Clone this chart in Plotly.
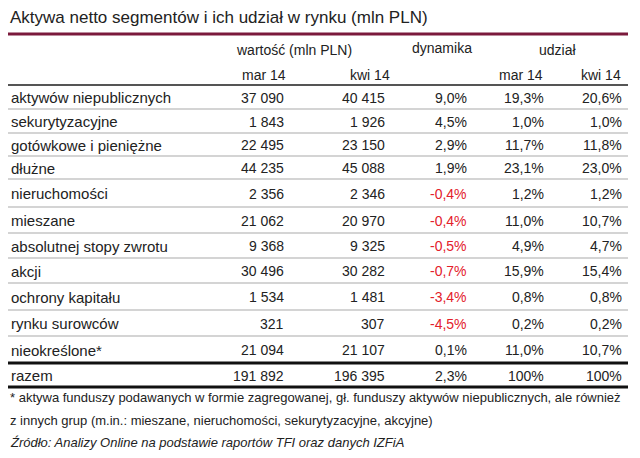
import plotly.graph_objects as go

# table data
categories = ["aktywów niepublicznych", "sekurytyzacyjne", "gotówkowe i pieniężne", "dłużne",
              "nieruchomości", "mieszane", "absolutnej stopy zwrotu", "akcji",
              "ochrony kapitału", "rynku surowców", "nieokreślone*", "razem"]
value_mar = [37090, 1843, 22495, 44235, 2356, 21062, 9368, 30496, 1534, 321, 21094, 191892]
value_kwi = [40415, 1926, 23150, 45088, 2346, 20970, 9325, 30282, 1481, 307, 21107, 196395]
dynamika = [9.0, 4.5, 2.9, 1.9, -0.4, -0.4, -0.5, -0.7, -3.4, -4.5, 0.1, 2.3]
share_mar = [19.3, 1.0, 11.7, 23.1, 1.2, 11.0, 4.9, 15.9, 0.8, 0.2, 11.0, 100]
share_kwi = [20.6, 1.0, 11.8, 23.0, 1.2, 10.7, 4.7, 15.4, 0.8, 0.2, 10.7, 100]

title = "Aktywa netto segmentów i ich udział w rynku (mln PLN)"
notes = ["* aktywa funduszy podawanych w formie zagregowanej, gł. funduszy aktywów niepublicznych, ale również",
         "z innych grup (m.in.: mieszane, nieruchomości, sekurytyzacyjne, akcyjne)"]
source = "Źródło: Analizy Online na podstawie raportów TFI oraz danych IZFiA"

# layout (page pixels); the page body has an 8px margin, so the axes start at 8
FONT = "Liberation Sans, Arial, sans-serif"
bounds = [85, 109, 133, 156, 179, 207, 233, 258, 283, 310, 336, 363, 387]
col_right = [286, 387, 469, 546, 624]
RED = "#e3202b"
TXT = "#222222"
LEFT = 8.5


def fmt_int(v):
    return f"{v:,}".replace(",", " ")


def fmt_pct(v):
    if v == 100:
        return "100%"
    return f"{v:.1f}%".replace(".", ",")


fig = go.Figure()
ann = []
shapes = []


def text(x, y, s, anchor="left", size=14, color=TXT, italic=False):
    ann.append(dict(x=x, y=y, xref="x", yref="y", text=s, showarrow=False,
                    xanchor=anchor, yanchor="middle", xshift=-1 if anchor == "left" else 0,
                    font=dict(family=FONT, size=size, color=color,
                              style="italic" if italic else "normal")))


def hline(y, color, width):
    shapes.append(dict(type="line", xref="x", yref="y", x0=8, x1=628, y0=y, y1=y,
                       line=dict(color=color, width=width)))


text(LEFT, 17, title, size=17)
hline(34, "#7b1a3c", 3)

text(294, 50, "wartość (mln PLN)", anchor="center")
text(442, 48, "dynamika", anchor="center")
text(557, 50, "udział", anchor="center")
text(288, 75, "mar 14", anchor="right")
text(392, 75, "kwi 14", anchor="right")
text(545, 75, "mar 14", anchor="right")
text(623, 75, "kwi 14", anchor="right")
hline(bounds[0], "#555555", 2)

for i, cat in enumerate(categories):
    yc = (bounds[i] + bounds[i + 1]) / 2 + 0.5
    text(10, yc, cat, size=15)
    text(col_right[0], yc, fmt_int(value_mar[i]), anchor="right")
    text(col_right[1], yc, fmt_int(value_kwi[i]), anchor="right")
    text(col_right[2], yc, fmt_pct(dynamika[i]), anchor="right",
         color=RED if dynamika[i] < 0 else TXT)
    text(col_right[3], yc, fmt_pct(share_mar[i]), anchor="right")
    text(col_right[4], yc, fmt_pct(share_kwi[i]), anchor="right")

for b in bounds[1:-2]:
    hline(b, "#d4d4d4", 2)
hline(bounds[-2], "#111111", 3)
hline(bounds[-1], "#111111", 3)

text(LEFT, 397, notes[0], size=13)
text(LEFT, 420, notes[1], size=13)
text(LEFT, 442, source, size=13, italic=True)

fig.update_layout(
    width=632, height=450,
    margin=dict(l=0, r=0, t=0, b=0),
    paper_bgcolor="white", plot_bgcolor="white",
    xaxis=dict(range=[8, 640], visible=False, fixedrange=True),
    yaxis=dict(range=[458, 8], visible=False, fixedrange=True),
    annotations=ann, shapes=shapes, showlegend=False,
)
fig.write_html("out.html")
